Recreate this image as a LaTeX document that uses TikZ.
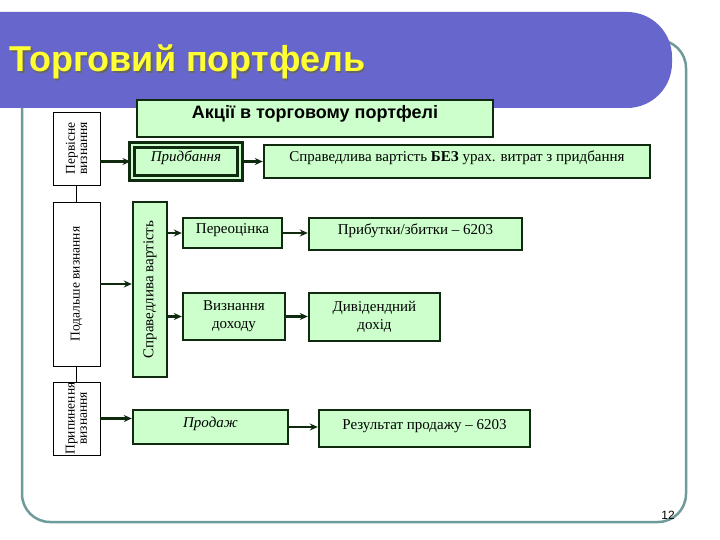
\documentclass[tikz,border=0pt]{standalone}
\usepackage{fontspec}
\setmainfont{Liberation Serif}
\newfontfamily\sansf{Liberation Sans}
\usetikzlibrary{arrows.meta}
\definecolor{bar}{HTML}{6666CC}
\definecolor{frm}{HTML}{6F9A9A}
\definecolor{gbox}{HTML}{CCFFCC}
\definecolor{dk}{HTML}{0F2A0F}
\definecolor{ttl}{HTML}{FFFF33}
\begin{document}
\begin{tikzpicture}[x=1pt,y=-1pt,
 g/.style={draw=dk,line width=2.4pt,fill=gbox,inner sep=0pt,font=\fontsize{15}{18}\selectfont,align=center},
 one/.style={text height=7pt,text depth=6pt},
 w/.style={draw=black,line width=0.8pt,fill=white,inner sep=0pt,align=center,font=\fontsize{13.5}{14}\selectfont},
 ar/.style={draw=dk,line width=2.6pt,-{Stealth[length=8pt,width=7pt]}}]
\useasboundingbox (0,0) rectangle (720,540);
\fill[white] (0,0) rectangle (720,540);
% frame
\draw[frm,line width=2.5pt,rounded corners=28pt] (22,40) rectangle (686,522);
\fill[bar,rounded corners=45pt] (-60,12) rectangle (672,108);
\fill[bar] (-5,12) rectangle (40,108);
\node[anchor=west,text=black!60,font=\sansf\bfseries\fontsize{36}{38}\selectfont] at (7.5,63.5) {Торговий портфель};
\node[anchor=west,text=ttl,font=\sansf\bfseries\fontsize{36}{38}\selectfont] (title) at (6,62) {Торговий портфель};
% left boxes
\node[w,minimum width=47,minimum height=73] (p1) at (76.5,148.5) {\rotatebox{90}{\shortstack{Первісне\\визнання}}};
\node[w,minimum width=47,minimum height=164] (p2) at (76.5,284) {\rotatebox{90}{Подальше визнання}};
\node[w,minimum width=47,minimum height=73] (p3) at (76.5,418.5) {\rotatebox{90}{\shortstack{Припинення\\визнання}}};
\draw[black,line width=1.5pt] (p1) -- (p2) (p2) -- (p3);
% green boxes
\node[g,one,minimum width=356,minimum height=37,font=\sansf\bfseries\fontsize{18}{20}\selectfont] (hd) at (315,118.5) {Акції в торговому портфелі};
\node[g,one,minimum width=108,minimum height=33,line width=3pt,double=gbox,double distance=1.2pt,font=\itshape\fontsize{15}{18}\selectfont] (pr) at (186,161.5) {Придбання};
\node[g,one,minimum width=386,minimum height=33] (sv) at (457,161.5) {Справедлива вартість \textbf{БЕЗ} урах. витрат з придбання};
\node[g,minimum width=34,minimum height=175] (svv) at (150,289.5) {\rotatebox{90}{Справедлива вартість}};
\node[g,one,minimum width=99,minimum height=30] (pe) at (232.5,233) {Переоцінка};
\node[g,one,minimum width=213,minimum height=32] (pz) at (415.5,234) {Прибутки/збитки -- 6203};
\node[g,minimum width=102,minimum height=47] (vd) at (234,316.5) {Визнання\\доходу};
\node[g,minimum width=131,minimum height=48] (dd) at (374.5,317) {Дивідендний\\дохід};
\node[g,one,minimum width=155,minimum height=34,font=\itshape\fontsize{15}{18}\selectfont] (pd) at (210.5,427) {Продаж};
\node[g,one,minimum width=211,minimum height=37] (rp) at (424.5,428.5) {Результат продажу -- 6203};
% arrows
\draw[ar] (p1.east |- pr) -- (pr);
\draw[ar] (pr) -- (sv);
\draw[ar] (p2.east) -- (p2 -| svv.west);
\draw[ar] (svv.east |- pe) -- (pe);
\draw[ar] (svv.east |- vd) -- (vd);
\draw[ar] (pe) -- (pe -| pz.west);
\draw[ar] (vd) -- (vd -| dd.west);
\draw[ar] (p3) -- (p3 -| pd.west);
\draw[ar] (pd) -- (pd -| rp.west);
\node[font=\sansf\fontsize{12}{13}\selectfont] (pg) at (668,515) {12};
\end{tikzpicture}
\end{document}
